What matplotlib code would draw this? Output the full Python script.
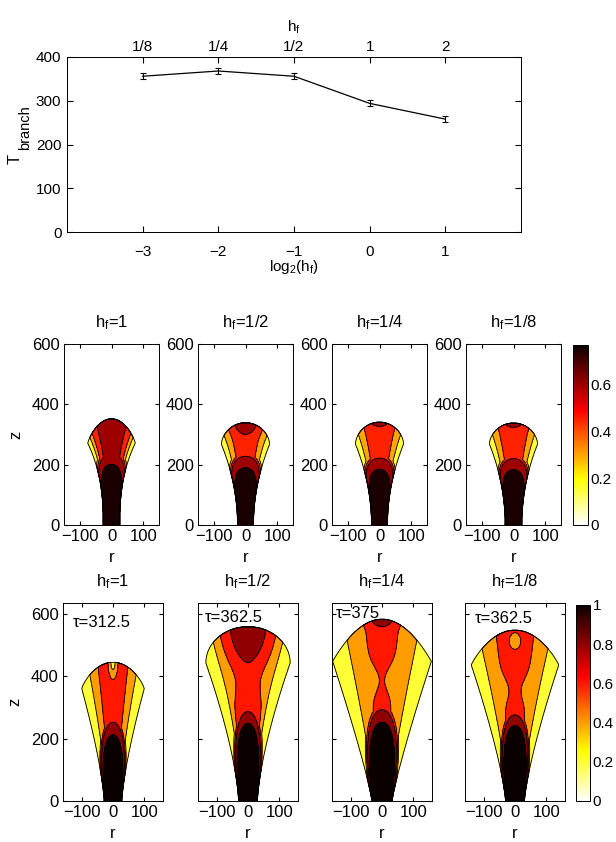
import numpy as np
import matplotlib
matplotlib.use('Agg')
import matplotlib.pyplot as plt
from matplotlib.colors import Normalize
from matplotlib.cm import ScalarMappable
from matplotlib.ticker import FormatStrFormatter

plt.rcParams['font.family'] = ['Liberation Sans', 'DejaVu Sans']
plt.rcParams['font.size'] = 12
plt.rcParams['mathtext.fontset'] = 'custom'
plt.rcParams['mathtext.rm'] = 'Liberation Sans'
plt.rcParams['mathtext.it'] = 'Liberation Sans'
plt.rcParams['mathtext.default'] = 'regular'
plt.rcParams['xtick.direction'] = 'in'
plt.rcParams['ytick.direction'] = 'in'
plt.rcParams['axes.linewidth'] = 0.7

# --- top panel: branching time vs filament height ---
log2_hf = [-3, -2, -1, 0, 1]
hf_labels = ['1/8', '1/4', '1/2', '1', '2']
t_branch = [356, 368, 356, 294, 258]
t_err = [6.5, 6.5, 6.5, 7, 7]

# --- plume snapshots (one entry per panel: hf = 1, 1/2, 1/4, 1/8) ---
panel_titles = ['h$_f$=1', 'h$_f$=1/2', 'h$_f$=1/4', 'h$_f$=1/8']
tau_labels = ['τ=312.5', 'τ=362.5', 'τ=375', 'τ=362.5']

# row 1 (earlier time), heights / widths in r,z units
head_width_1 = [75, 76, 76, 76]
lip_height_1 = [271, 267, 268, 268]
top_height_1 = [352, 339, 341, 338]
base_width_1 = [26, 25, 25, 26]
flare_1 = [2.5, 2.0, 2.0, 2.0]
dome_1 = [0.8, 0.55, 0.55, 0.55]
core_top_1 = [201, 190, 185, 183]
ring_top_1 = [235, 228, 222, 220]
core_spread_1 = [1.2, 1.2, 1.2, 1.2]
d_outer_1 = [0.81, 0.75, 0.75, 0.75]
d_inner_1 = [0.67, 0.49, 0.49, 0.49]
centre_val_1 = [0.72, 0.55, 0.55, 0.55]
waist_d_1 = [0.67, 0.49, 0.49, 0.49]
waist_z_1 = [0, 0, 0, 0]
waist_h_1 = [1, 1, 1, 1]
cap_amp_1 = [0.0, 0.15, 0.12, 0.12]
cap_z_1 = [352, 340, 341, 338]
cap_r_1 = [40, 55, 40, 40]
cap_h_1 = [30, 38, 15, 15]
levels_1 = [0.15, 0.30, 0.45, 0.60, 0.75]
cbar_max_1 = 0.77

# row 2 (tau labels)
head_width_2 = [100, 135, 158, 140]
lip_height_2 = [360, 443, 448, 436]
top_height_2 = [445, 559, 583, 548]
base_width_2 = [28, 30, 32, 30]
flare_2 = [1.35, 1.45, 1.15, 1.3]
dome_2 = [0.8, 0.5, 1.0, 0.9]
core_top_2 = [212, 249, 253, 242]
ring_top_2 = [253, 287, 293, 276]
core_spread_2 = [0.3, 0.3, 0.3, 0.3]
d_outer_2 = [0.66, 0.65, 0.62, 0.67]
d_inner_2 = [0.40, 0.50, 0.27, 0.35]
centre_val_2 = [0.72, 0.72, 0.72, 0.72]
waist_d_2 = [0.40, 0.32, 0.06, 0.17]
waist_z_2 = [0, 390, 387, 355]
waist_h_2 = [1, 70, 55, 50]
cap_amp_2 = [-0.40, 0.25, 0.20, -0.25]
cap_z_2 = [445, 560, 583, 513]
cap_r_2 = [14, 71, 45, 20]
cap_h_2 = [50, 109, 25, 31]
levels_2 = [0.2, 0.4, 0.6, 0.8, 1.0]
cbar_max_2 = 1.0


def plume_field(R, Z, W, zs, zt, w0, pw, de, zc, zr, m, d_yo, d_or, vc,
                dw, zw, hw, amp, zb, rb, hb, L):
    A = np.abs(R)
    w = w0 + (W - w0) * (Z / zs) ** pw
    d = A / w
    edge = L[0] + 0.4 * (L[1] - L[0])
    d_or_z = d_or - (d_or - dw) * np.exp(-((Z - zw) / hw) ** 2)
    side = np.where(
        d < d_or_z, L[2] + (vc - L[2]) * (1 - (d / d_or_z) ** 2),
        np.where(d < d_yo, L[2] - (L[2] - L[1]) * (d - d_or_z) / (d_yo - d_or_z),
                 L[1] - (L[1] - edge) * (d - d_yo) / (1 - d_yo)))
    side = side + amp * np.exp(-((R / rb) ** 2 + ((Z - zb) / hb) ** 2))
    # dense core, wrapped in a thin shell that is thickest on top
    rc = w0 + 2 + m * (np.minimum(w, W) - w0)
    rho1 = np.sqrt((R / rc) ** 2 + (Z / zc) ** 3)
    rho2 = np.sqrt((R / (1.1 * rc)) ** 2 + (Z / zr) ** 3)
    v1 = np.where(rho1 < 1, L[4] + 0.1 * (1 - rho1), L[4] - 3 * (rho1 - 1))
    v2 = np.where(rho2 < 1, L[3] + 0.1 * (1 - rho2), L[3] - 3 * (rho2 - 1))
    v = np.maximum(side, np.maximum(v1, v2))
    cap = zs + (zt - zs) * (1 - np.clip(A / W, 0, 1) ** 2) ** de
    inside = np.where(Z <= zs, A < w, (A < W) & (Z < cap))
    return np.where(inside, v, 0.0)


W_PX, H_PX = 616, 842
fig = plt.figure(figsize=(W_PX / 100, H_PX / 100), dpi=100)


def px_axes(left, top, right, bottom):
    return fig.add_axes([left / W_PX, 1 - bottom / H_PX,
                         (right - left) / W_PX, (bottom - top) / H_PX])


# top panel
ax = px_axes(67, 57, 521, 232)
ax.errorbar(log2_hf, t_branch, yerr=t_err, color='k', lw=0.9,
            elinewidth=0.8, capsize=2.5, capthick=0.8)
ax.set_xlim(-4, 2)
ax.set_ylim(0, 400)
ax.set_xticks(log2_hf)
ax.set_yticks([0, 100, 200, 300, 400])
ax.set_xticklabels(['\u22123', '\u22122', '\u22121', '0', '1'])
ax.tick_params(axis='x', length=4, pad=9, labelsize=11)
ax.tick_params(axis='y', right=True, length=4, pad=4, labelsize=11)
ax.set_xlabel(r'log$_2$(h$_f$)', labelpad=0, fontsize=11)
# y label: T with a large "branch" subscript
fig.text(15 / W_PX, 1 - 159 / H_PX, 'T', rotation=90, ha='center', va='center', fontsize=12)
fig.text(25 / W_PX, 1 - 128 / H_PX, 'branch', rotation=90, ha='center', va='center',
         fontsize=10.5)
axt = ax.twiny()
axt.set_xlim(-4, 2)
axt.set_xticks(log2_hf)
axt.set_xticklabels(hf_labels)
axt.tick_params(length=4, pad=2, labelsize=11)
axt.set_xlabel('h$_f$', labelpad=6, fontsize=11)

cmap = plt.get_cmap('hot_r')
r = np.linspace(-170, 170, 681)
z = np.linspace(0, 650, 1301)
R, Z = np.meshgrid(r, z)

rows = [
    dict(top=344, bottom=525, lefts=[64, 198, 332, 466], width=95, ylim=600,
         xlim=150, W=head_width_1, zs=lip_height_1, zt=top_height_1, w0=base_width_1,
         pw=flare_1, de=dome_1, zc=core_top_1, zr=ring_top_1, m=core_spread_1,
         dyo=d_outer_1, dor=d_inner_1,
         vc=centre_val_1, dw=waist_d_1, zw=waist_z_1, hw=waist_h_1, amp=cap_amp_1,
         zb=cap_z_1, rb=cap_r_1, hb=cap_h_1, L=levels_1, vmax=cbar_max_1,
         cbar=(573, 345, 588, 525), cticks=[0, 0.2, 0.4, 0.6], tau=False),
    dict(top=603, bottom=801, lefts=[63, 198, 332, 465], width=100, ylim=635,
         xlim=160, W=head_width_2, zs=lip_height_2, zt=top_height_2, w0=base_width_2,
         pw=flare_2, de=dome_2, zc=core_top_2, zr=ring_top_2, m=core_spread_2,
         dyo=d_outer_2, dor=d_inner_2,
         vc=centre_val_2, dw=waist_d_2, zw=waist_z_2, hw=waist_h_2, amp=cap_amp_2,
         zb=cap_z_2, rb=cap_r_2, hb=cap_h_2, L=levels_2, vmax=cbar_max_2,
         cbar=(576, 605, 590, 801), cticks=[0, 0.2, 0.4, 0.6, 0.8, 1], tau=True),
]
tau_pos = [(0.10, 0.90), (0.07, 0.925), (0.04, 0.945), (0.10, 0.92)]

for row in rows:
    norm = Normalize(0, row['vmax'])
    lev = row['L'] + [row['L'][-1] + 1]
    fill_colors = [cmap(norm(v)) for v in row['L']]
    for i in range(4):
        ax = px_axes(row['lefts'][i], row['top'], row['lefts'][i] + row['width'], row['bottom'])
        F = plume_field(R, Z, row['W'][i], row['zs'][i], row['zt'][i], row['w0'][i],
                        row['pw'][i], row['de'][i], row['zc'][i], row['zr'][i], row['m'][i],
                        row['dyo'][i], row['dor'][i], row['vc'][i], row['dw'][i],
                        row['zw'][i], row['hw'][i], row['amp'][i], row['zb'][i],
                        row['rb'][i], row['hb'][i], row['L'])
        ax.contourf(R, Z, F, levels=lev, colors=fill_colors)
        ax.contour(R, Z, F, levels=row['L'], colors='k', linewidths=0.6)
        ax.set_xlim(-row['xlim'], row['xlim'])
        ax.set_ylim(0, row['ylim'])
        ax.set_xticks([-100, 0, 100])
        ax.set_xticklabels(['\u2212100', '0', '100'])
        ax.set_yticks([0, 200, 400, 600])
        ax.tick_params(top=True, right=True, length=3, pad=3)
        ax.set_xlabel('r', labelpad=4)
        ax.set_title(panel_titles[i], pad=12, fontsize=12)
        if row['tau'] and i > 0:
            ax.set_yticklabels([])
        if i == 0:
            ax.set_ylabel('z', labelpad=6)
        if row['tau']:
            ax.text(tau_pos[i][0], tau_pos[i][1], tau_labels[i], transform=ax.transAxes,
                    va='center', ha='left')
    cl, ct, cr, cb_ = row['cbar']
    cax = px_axes(cl, ct, cr, cb_)
    cb = fig.colorbar(ScalarMappable(norm=norm, cmap=cmap), cax=cax, ticks=row['cticks'])
    cb.ax.yaxis.set_major_formatter(FormatStrFormatter('%g'))
    cb.ax.tick_params(length=0, pad=2, labelsize=11)
    cb.outline.set_linewidth(0.7)

fig.savefig('out.png', dpi=100)
